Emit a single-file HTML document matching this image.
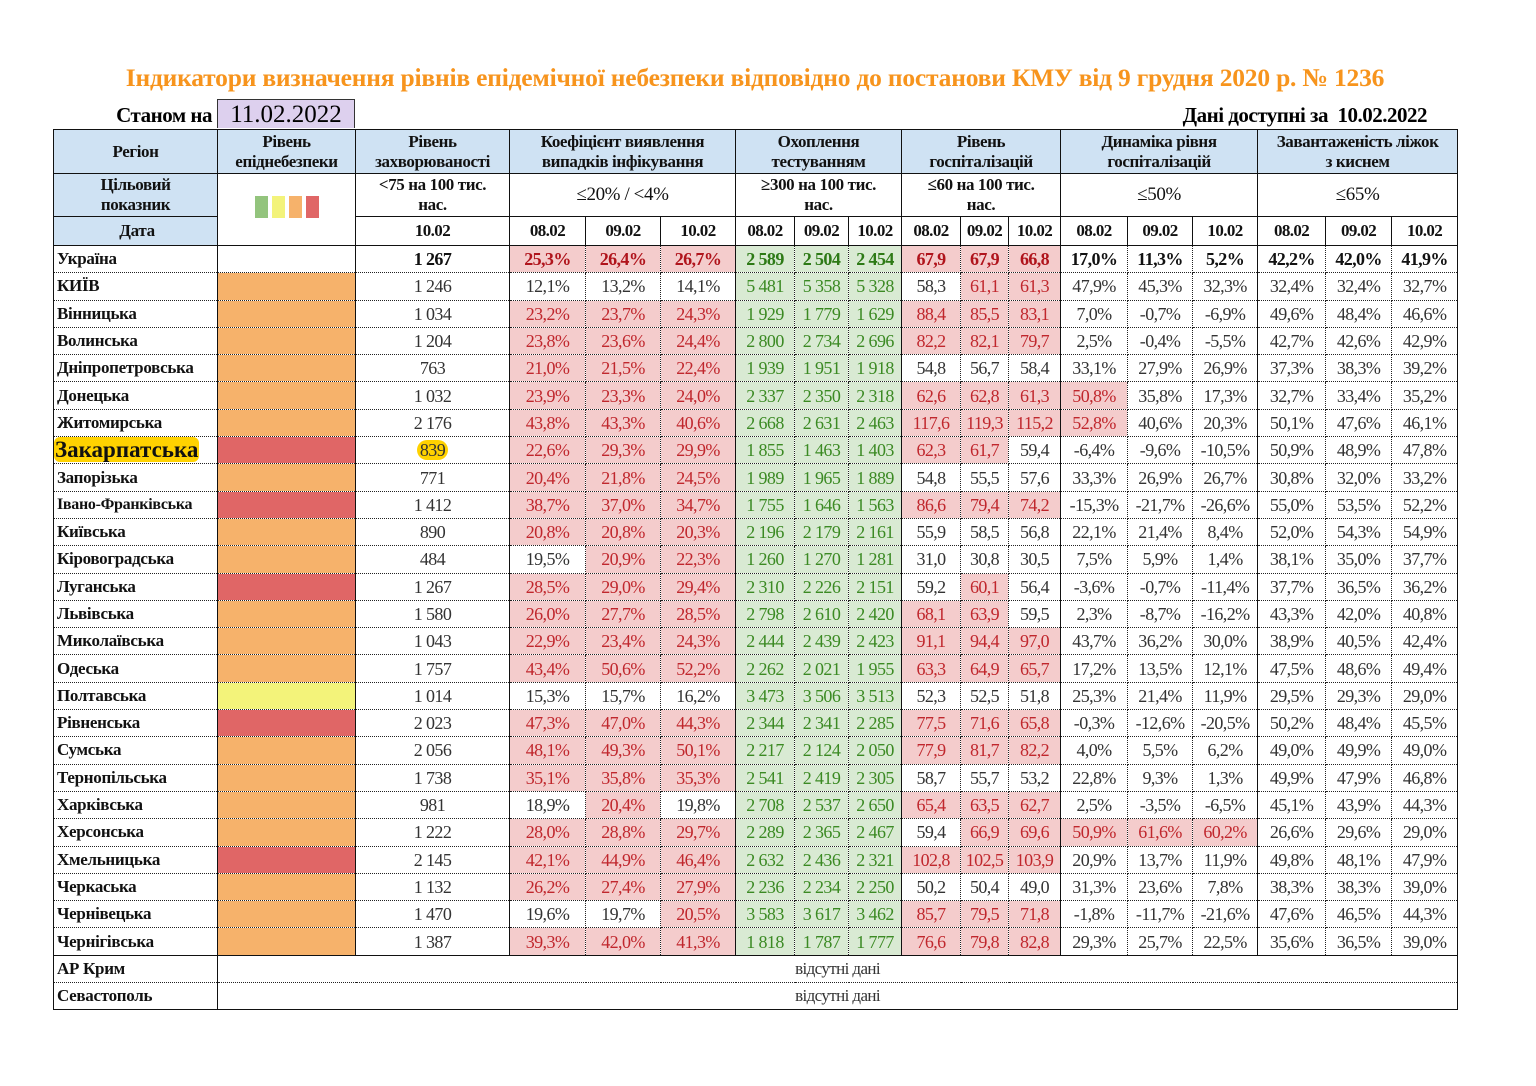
<!DOCTYPE html>
<html><head><meta charset="utf-8">
<style>
html,body{margin:0;padding:0;background:#fff;}
body{width:1536px;height:1086px;position:relative;overflow:hidden;font-family:"Liberation Serif","DejaVu Serif",serif;}
.title{position:absolute;left:0;width:1510px;top:63px;text-align:center;color:#f7941d;font-weight:bold;font-size:25.5px;letter-spacing:-0.2px;white-space:nowrap;}
.st{position:absolute;left:96px;top:103px;width:116px;text-align:right;font-weight:bold;font-size:21px;letter-spacing:-0.5px;}
.date{position:absolute;left:217px;top:99px;width:136px;height:28px;background:#ddd0ee;border:1.5px solid #333;border-bottom:none;text-align:center;font-size:25px;line-height:30px;}
.avail{position:absolute;right:109px;top:103px;font-weight:bold;font-size:21px;letter-spacing:-0.5px;}
table{position:absolute;left:53px;top:129px;border-collapse:collapse;table-layout:fixed;width:1404px;}
td{border:1px dotted #222;padding:0;text-align:center;font-size:18px;letter-spacing:-0.6px;color:#333;overflow:hidden;white-space:nowrap;height:26.3px;line-height:22px;}
tr.h td{background:#cfe2f3;font-weight:bold;font-size:17px;line-height:20px;color:#111;border:1.5px solid #111;letter-spacing:-0.4px;}
tr.h td.w{background:#fff;}
tr.h2 td{font-weight:bold;color:#111;font-size:17px;border-left:1px solid #111;border-right:1px solid #111;border-bottom:1.5px solid #111;}
td.n{text-align:left;font-weight:bold;font-size:17px;color:#111;padding-left:3px;letter-spacing:-0.3px;border-left:1.5px solid #111;border-right:1.5px solid #111;}
td.s{border-left:1.5px solid #111;}
td.e{border-right:1.5px solid #111;}
.p{background:#f4cccc;color:#c0272d;}
.g{background:#d9ead3;color:#3b8a23;}
.o{background:#f6b26b;}
.r{background:#e06666;}
.y{background:#f3f37a;}
tr.u td{font-weight:bold;color:#111;}
tr.u td.p{color:#b0141c;}
tr.u td.g{color:#2d7a16;}
tr.last td{border-bottom:1.5px solid #111;}
.sq{display:inline-block;width:13px;height:22px;margin:0 2px;}
</style></head><body>
<div class="title">Індикатори визначення рівнів епідемічної небезпеки відповідно до постанови КМУ від 9 грудня 2020 р. № 1236</div>
<div class="st">Станом на</div>
<div class="date">11.02.2022</div>
<div class="avail">Дані доступні за&nbsp; 10.02.2022</div>
<table>
<colgroup><col style="width:164px"><col style="width:138px"><col style="width:154px"><col style="width:76px"><col style="width:75px"><col style="width:75px"><col style="width:59px"><col style="width:54px"><col style="width:53px"><col style="width:59px"><col style="width:48px"><col style="width:52px"><col style="width:67px"><col style="width:65px"><col style="width:65px"><col style="width:68px"><col style="width:66px"><col style="width:66px"></colgroup>
<tr class="h" style="height:44px"><td>Регіон</td><td>Рівень<br>епіднебезпеки</td><td>Рівень<br>захворюваності</td><td colspan="3">Коефіцієнт виявлення<br>випадків інфікування</td><td colspan="3">Охоплення<br>тестуванням</td><td colspan="3">Рівень<br>госпіталізацій</td><td colspan="3">Динаміка рівня<br>госпіталізацій</td><td colspan="3">Завантаженість ліжок<br>з киснем</td></tr>
<tr class="h" style="height:43px"><td>Цільовий<br>показник</td><td class="w" rowspan="2"><span class="sq" style="background:#93c47d"></span><span class="sq" style="background:#f3f37a"></span><span class="sq" style="background:#f6b26b"></span><span class="sq" style="background:#e06666"></span></td><td class="w">&lt;75 на 100 тис.<br>нас.</td><td class="w" colspan="3" style="font-weight:normal;font-size:19px">≤20% / &lt;4%</td><td class="w" colspan="3">≥300 на 100 тис.<br>нас.</td><td class="w" colspan="3">≤60 на 100 тис.<br>нас.</td><td class="w" colspan="3" style="font-weight:normal;font-size:19px">≤50%</td><td class="w" colspan="3" style="font-weight:normal;font-size:19px">≤65%</td></tr>
<tr class="h2" style="height:29px"><td class="n" style="background:#cfe2f3;text-align:center;font-size:17px;border:1.5px solid #111">Дата</td><td class="s">10.02</td><td class="s">08.02</td><td>09.02</td><td>10.02</td><td class="s">08.02</td><td>09.02</td><td>10.02</td><td class="s">08.02</td><td>09.02</td><td>10.02</td><td class="s">08.02</td><td>09.02</td><td>10.02</td><td class="s">08.02</td><td>09.02</td><td class="e">10.02</td></tr>
<tr class="u"><td class="n">Україна</td><td class="s"></td><td class="s">1 267</td><td class="s p">25,3%</td><td class="p">26,4%</td><td class="p">26,7%</td><td class="s g">2 589</td><td class="g">2 504</td><td class="g">2 454</td><td class="s p">67,9</td><td class="p">67,9</td><td class="p">66,8</td><td class="s">17,0%</td><td>11,3%</td><td>5,2%</td><td class="s">42,2%</td><td>42,0%</td><td class="e">41,9%</td></tr>
<tr><td class="n">КИЇВ</td><td class="s o"></td><td class="s">1 246</td><td class="s">12,1%</td><td>13,2%</td><td>14,1%</td><td class="s g">5 481</td><td class="g">5 358</td><td class="g">5 328</td><td class="s">58,3</td><td class="p">61,1</td><td class="p">61,3</td><td class="s">47,9%</td><td>45,3%</td><td>32,3%</td><td class="s">32,4%</td><td>32,4%</td><td class="e">32,7%</td></tr>
<tr><td class="n">Вінницька</td><td class="s o"></td><td class="s">1 034</td><td class="s p">23,2%</td><td class="p">23,7%</td><td class="p">24,3%</td><td class="s g">1 929</td><td class="g">1 779</td><td class="g">1 629</td><td class="s p">88,4</td><td class="p">85,5</td><td class="p">83,1</td><td class="s">7,0%</td><td>-0,7%</td><td>-6,9%</td><td class="s">49,6%</td><td>48,4%</td><td class="e">46,6%</td></tr>
<tr><td class="n">Волинська</td><td class="s o"></td><td class="s">1 204</td><td class="s p">23,8%</td><td class="p">23,6%</td><td class="p">24,4%</td><td class="s g">2 800</td><td class="g">2 734</td><td class="g">2 696</td><td class="s p">82,2</td><td class="p">82,1</td><td class="p">79,7</td><td class="s">2,5%</td><td>-0,4%</td><td>-5,5%</td><td class="s">42,7%</td><td>42,6%</td><td class="e">42,9%</td></tr>
<tr><td class="n">Дніпропетровська</td><td class="s o"></td><td class="s">763</td><td class="s p">21,0%</td><td class="p">21,5%</td><td class="p">22,4%</td><td class="s g">1 939</td><td class="g">1 951</td><td class="g">1 918</td><td class="s">54,8</td><td>56,7</td><td>58,4</td><td class="s">33,1%</td><td>27,9%</td><td>26,9%</td><td class="s">37,3%</td><td>38,3%</td><td class="e">39,2%</td></tr>
<tr><td class="n">Донецька</td><td class="s o"></td><td class="s">1 032</td><td class="s p">23,9%</td><td class="p">23,3%</td><td class="p">24,0%</td><td class="s g">2 337</td><td class="g">2 350</td><td class="g">2 318</td><td class="s p">62,6</td><td class="p">62,8</td><td class="p">61,3</td><td class="s p">50,8%</td><td>35,8%</td><td>17,3%</td><td class="s">32,7%</td><td>33,4%</td><td class="e">35,2%</td></tr>
<tr><td class="n">Житомирська</td><td class="s o"></td><td class="s">2 176</td><td class="s p">43,8%</td><td class="p">43,3%</td><td class="p">40,6%</td><td class="s g">2 668</td><td class="g">2 631</td><td class="g">2 463</td><td class="s p">117,6</td><td class="p">119,3</td><td class="p">115,2</td><td class="s p">52,8%</td><td>40,6%</td><td>20,3%</td><td class="s">50,1%</td><td>47,6%</td><td class="e">46,1%</td></tr>
<tr><td class="n" style="font-size:23px;padding-left:0;letter-spacing:0"><span style="background:#ffd200;border-radius:6px;padding:0 1px">Закарпатська</span></td><td class="s r"></td><td class="s"><span style="background:#ffd200;border-radius:10px;padding:0 3px">839</span></td><td class="s p">22,6%</td><td class="p">29,3%</td><td class="p">29,9%</td><td class="s g">1 855</td><td class="g">1 463</td><td class="g">1 403</td><td class="s p">62,3</td><td class="p">61,7</td><td>59,4</td><td class="s">-6,4%</td><td>-9,6%</td><td>-10,5%</td><td class="s">50,9%</td><td>48,9%</td><td class="e">47,8%</td></tr>
<tr><td class="n">Запорізька</td><td class="s o"></td><td class="s">771</td><td class="s p">20,4%</td><td class="p">21,8%</td><td class="p">24,5%</td><td class="s g">1 989</td><td class="g">1 965</td><td class="g">1 889</td><td class="s">54,8</td><td>55,5</td><td>57,6</td><td class="s">33,3%</td><td>26,9%</td><td>26,7%</td><td class="s">30,8%</td><td>32,0%</td><td class="e">33,2%</td></tr>
<tr><td class="n" style="font-size:16px">Івано-Франківська</td><td class="s r"></td><td class="s">1 412</td><td class="s p">38,7%</td><td class="p">37,0%</td><td class="p">34,7%</td><td class="s g">1 755</td><td class="g">1 646</td><td class="g">1 563</td><td class="s p">86,6</td><td class="p">79,4</td><td class="p">74,2</td><td class="s">-15,3%</td><td>-21,7%</td><td>-26,6%</td><td class="s">55,0%</td><td>53,5%</td><td class="e">52,2%</td></tr>
<tr><td class="n">Київська</td><td class="s o"></td><td class="s">890</td><td class="s p">20,8%</td><td class="p">20,8%</td><td class="p">20,3%</td><td class="s g">2 196</td><td class="g">2 179</td><td class="g">2 161</td><td class="s">55,9</td><td>58,5</td><td>56,8</td><td class="s">22,1%</td><td>21,4%</td><td>8,4%</td><td class="s">52,0%</td><td>54,3%</td><td class="e">54,9%</td></tr>
<tr><td class="n">Кіровоградська</td><td class="s o"></td><td class="s">484</td><td class="s">19,5%</td><td class="p">20,9%</td><td class="p">22,3%</td><td class="s g">1 260</td><td class="g">1 270</td><td class="g">1 281</td><td class="s">31,0</td><td>30,8</td><td>30,5</td><td class="s">7,5%</td><td>5,9%</td><td>1,4%</td><td class="s">38,1%</td><td>35,0%</td><td class="e">37,7%</td></tr>
<tr><td class="n">Луганська</td><td class="s r"></td><td class="s">1 267</td><td class="s p">28,5%</td><td class="p">29,0%</td><td class="p">29,4%</td><td class="s g">2 310</td><td class="g">2 226</td><td class="g">2 151</td><td class="s">59,2</td><td class="p">60,1</td><td>56,4</td><td class="s">-3,6%</td><td>-0,7%</td><td>-11,4%</td><td class="s">37,7%</td><td>36,5%</td><td class="e">36,2%</td></tr>
<tr><td class="n">Львівська</td><td class="s o"></td><td class="s">1 580</td><td class="s p">26,0%</td><td class="p">27,7%</td><td class="p">28,5%</td><td class="s g">2 798</td><td class="g">2 610</td><td class="g">2 420</td><td class="s p">68,1</td><td class="p">63,9</td><td>59,5</td><td class="s">2,3%</td><td>-8,7%</td><td>-16,2%</td><td class="s">43,3%</td><td>42,0%</td><td class="e">40,8%</td></tr>
<tr><td class="n">Миколаївська</td><td class="s o"></td><td class="s">1 043</td><td class="s p">22,9%</td><td class="p">23,4%</td><td class="p">24,3%</td><td class="s g">2 444</td><td class="g">2 439</td><td class="g">2 423</td><td class="s p">91,1</td><td class="p">94,4</td><td class="p">97,0</td><td class="s">43,7%</td><td>36,2%</td><td>30,0%</td><td class="s">38,9%</td><td>40,5%</td><td class="e">42,4%</td></tr>
<tr><td class="n">Одеська</td><td class="s o"></td><td class="s">1 757</td><td class="s p">43,4%</td><td class="p">50,6%</td><td class="p">52,2%</td><td class="s g">2 262</td><td class="g">2 021</td><td class="g">1 955</td><td class="s p">63,3</td><td class="p">64,9</td><td class="p">65,7</td><td class="s">17,2%</td><td>13,5%</td><td>12,1%</td><td class="s">47,5%</td><td>48,6%</td><td class="e">49,4%</td></tr>
<tr><td class="n">Полтавська</td><td class="s y"></td><td class="s">1 014</td><td class="s">15,3%</td><td>15,7%</td><td>16,2%</td><td class="s g">3 473</td><td class="g">3 506</td><td class="g">3 513</td><td class="s">52,3</td><td>52,5</td><td>51,8</td><td class="s">25,3%</td><td>21,4%</td><td>11,9%</td><td class="s">29,5%</td><td>29,3%</td><td class="e">29,0%</td></tr>
<tr><td class="n">Рівненська</td><td class="s r"></td><td class="s">2 023</td><td class="s p">47,3%</td><td class="p">47,0%</td><td class="p">44,3%</td><td class="s g">2 344</td><td class="g">2 341</td><td class="g">2 285</td><td class="s p">77,5</td><td class="p">71,6</td><td class="p">65,8</td><td class="s">-0,3%</td><td>-12,6%</td><td>-20,5%</td><td class="s">50,2%</td><td>48,4%</td><td class="e">45,5%</td></tr>
<tr><td class="n">Сумська</td><td class="s o"></td><td class="s">2 056</td><td class="s p">48,1%</td><td class="p">49,3%</td><td class="p">50,1%</td><td class="s g">2 217</td><td class="g">2 124</td><td class="g">2 050</td><td class="s p">77,9</td><td class="p">81,7</td><td class="p">82,2</td><td class="s">4,0%</td><td>5,5%</td><td>6,2%</td><td class="s">49,0%</td><td>49,9%</td><td class="e">49,0%</td></tr>
<tr><td class="n">Тернопільська</td><td class="s o"></td><td class="s">1 738</td><td class="s p">35,1%</td><td class="p">35,8%</td><td class="p">35,3%</td><td class="s g">2 541</td><td class="g">2 419</td><td class="g">2 305</td><td class="s">58,7</td><td>55,7</td><td>53,2</td><td class="s">22,8%</td><td>9,3%</td><td>1,3%</td><td class="s">49,9%</td><td>47,9%</td><td class="e">46,8%</td></tr>
<tr><td class="n">Харківська</td><td class="s o"></td><td class="s">981</td><td class="s">18,9%</td><td class="p">20,4%</td><td>19,8%</td><td class="s g">2 708</td><td class="g">2 537</td><td class="g">2 650</td><td class="s p">65,4</td><td class="p">63,5</td><td class="p">62,7</td><td class="s">2,5%</td><td>-3,5%</td><td>-6,5%</td><td class="s">45,1%</td><td>43,9%</td><td class="e">44,3%</td></tr>
<tr><td class="n">Херсонська</td><td class="s o"></td><td class="s">1 222</td><td class="s p">28,0%</td><td class="p">28,8%</td><td class="p">29,7%</td><td class="s g">2 289</td><td class="g">2 365</td><td class="g">2 467</td><td class="s">59,4</td><td class="p">66,9</td><td class="p">69,6</td><td class="s p">50,9%</td><td class="p">61,6%</td><td class="p">60,2%</td><td class="s">26,6%</td><td>29,6%</td><td class="e">29,0%</td></tr>
<tr><td class="n">Хмельницька</td><td class="s r"></td><td class="s">2 145</td><td class="s p">42,1%</td><td class="p">44,9%</td><td class="p">46,4%</td><td class="s g">2 632</td><td class="g">2 436</td><td class="g">2 321</td><td class="s p">102,8</td><td class="p">102,5</td><td class="p">103,9</td><td class="s">20,9%</td><td>13,7%</td><td>11,9%</td><td class="s">49,8%</td><td>48,1%</td><td class="e">47,9%</td></tr>
<tr><td class="n">Черкаська</td><td class="s o"></td><td class="s">1 132</td><td class="s p">26,2%</td><td class="p">27,4%</td><td class="p">27,9%</td><td class="s g">2 236</td><td class="g">2 234</td><td class="g">2 250</td><td class="s">50,2</td><td>50,4</td><td>49,0</td><td class="s">31,3%</td><td>23,6%</td><td>7,8%</td><td class="s">38,3%</td><td>38,3%</td><td class="e">39,0%</td></tr>
<tr><td class="n">Чернівецька</td><td class="s o"></td><td class="s">1 470</td><td class="s">19,6%</td><td>19,7%</td><td class="p">20,5%</td><td class="s g">3 583</td><td class="g">3 617</td><td class="g">3 462</td><td class="s p">85,7</td><td class="p">79,5</td><td class="p">71,8</td><td class="s">-1,8%</td><td>-11,7%</td><td>-21,6%</td><td class="s">47,6%</td><td>46,5%</td><td class="e">44,3%</td></tr>
<tr><td class="n">Чернігівська</td><td class="s o"></td><td class="s">1 387</td><td class="s p">39,3%</td><td class="p">42,0%</td><td class="p">41,3%</td><td class="s g">1 818</td><td class="g">1 787</td><td class="g">1 777</td><td class="s p">76,6</td><td class="p">79,8</td><td class="p">82,8</td><td class="s">29,3%</td><td>25,7%</td><td>22,5%</td><td class="s">35,6%</td><td>36,5%</td><td class="e">39,0%</td></tr>
<tr style="border-top:1.5px solid #111"><td class="n">АР Крим</td><td class="s e" colspan="17" style="font-size:17px">відсутні дані</td></tr>
<tr class="last"><td class="n">Севастополь</td><td class="s e" colspan="17" style="font-size:17px">відсутні дані</td></tr>
</table>
</body></html>
